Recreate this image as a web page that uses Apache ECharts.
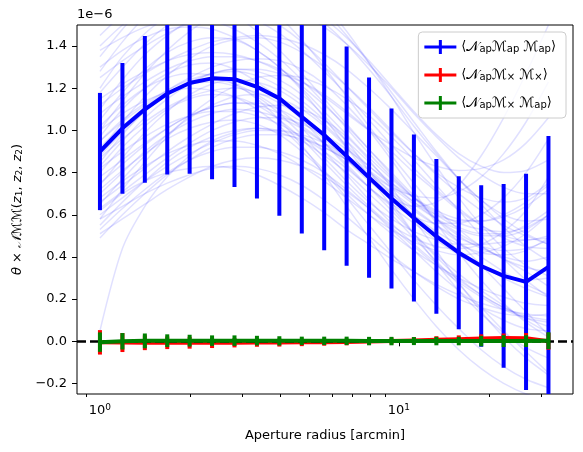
<!DOCTYPE html>
<html>
<head>
<meta charset="utf-8">
<script src="https://cdn.jsdelivr.net/npm/echarts@6/dist/echarts.min.js"></script>
<style>
  html, body { margin: 0; padding: 0; background: #fff; }
  #chart { width: 583px; height: 452px; }
</style>
</head>
<body>
<div id="chart"></div>
<script>
// aperture radii [arcmin]
const radius = [1.000, 1.189, 1.413, 1.679, 1.995, 2.371, 2.818, 3.350, 3.981, 4.732, 5.623,
  6.683, 7.943, 9.441, 11.22, 13.34, 15.85, 18.84, 22.39, 26.61, 31.62];

// values in units of 1e-6
const apMean = [0.90, 1.01, 1.10, 1.175, 1.225, 1.247, 1.243, 1.207, 1.152, 1.065, 0.978,
  0.878, 0.776, 0.677, 0.585, 0.497, 0.42, 0.357, 0.31, 0.282, 0.353];
const apErr = [0.278, 0.31, 0.348, 0.384, 0.43, 0.478, 0.511, 0.53, 0.557, 0.554, 0.546,
  0.52, 0.475, 0.427, 0.396, 0.367, 0.363, 0.383, 0.436, 0.513, 0.62];

const xxMean = [-0.005, -0.006, -0.007, -0.007, -0.007, -0.007, -0.007, -0.006, -0.006, -0.005, -0.004,
  -0.003, -0.001, 0.001, 0.004, 0.007, 0.010, 0.013, 0.015, 0.014, 0.000];
const xxErr = [0.058, 0.045, 0.035, 0.03, 0.028, 0.025, 0.022, 0.02, 0.019, 0.018, 0.017,
  0.016, 0.016, 0.016, 0.016, 0.017, 0.018, 0.02, 0.022, 0.025, 0.04];

const xapMean = [-0.004, 0.0, 0.002, 0.003, 0.003, 0.003, 0.003, 0.003, 0.002, 0.002, 0.002,
  0.002, 0.001, 0.001, 0.001, 0.001, 0.001, 0.001, 0.001, 0.001, 0.003];
const xapErr = [0.046, 0.039, 0.035, 0.03, 0.028, 0.025, 0.025, 0.023, 0.022, 0.02, 0.02,
  0.02, 0.02, 0.02, 0.019, 0.02, 0.02, 0.025, 0.028, 0.028, 0.04];

// individual realisations (faint lines)
const realizations = [
  [0.62,0.70,0.76,0.80,0.82,0.83,0.82,0.79,0.74,0.68,0.61,0.53,0.46,0.39,0.33,0.27,0.22,0.18,0.15,0.13,0.12],
  [1.10,1.24,1.36,1.45,1.52,1.55,1.55,1.52,1.46,1.38,1.28,1.17,1.05,0.93,0.82,0.72,0.63,0.55,0.49,0.45,0.44],
  [0.85,0.98,1.09,1.17,1.22,1.24,1.22,1.17,1.10,1.01,0.90,0.79,0.67,0.56,0.46,0.37,0.29,0.22,0.16,0.11,0.07],
  [0.05,0.44,0.64,0.78,0.88,0.95,0.99,1.01,1.00,0.97,0.92,0.86,0.79,0.71,0.63,0.55,0.47,0.40,0.33,0.27,0.22],
  [1.40,1.50,1.58,1.62,1.63,1.60,1.55,1.47,1.38,1.27,1.15,1.03,0.91,0.79,0.68,0.58,0.50,0.44,0.40,0.38,0.40],
  [0.70,0.80,0.90,0.98,1.04,1.08,1.10,1.09,1.06,1.01,0.94,0.86,0.77,0.68,0.59,0.51,0.43,0.36,0.30,0.25,0.21],
  [0.95,1.05,1.13,1.19,1.24,1.27,1.29,1.29,1.27,1.23,1.17,1.09,1.00,0.90,0.80,0.71,0.62,0.55,0.50,0.48,0.50],
  [0.55,0.66,0.76,0.85,0.92,0.97,1.00,1.01,0.99,0.95,0.88,0.80,0.70,0.60,0.49,0.38,0.27,0.16,0.05,-0.05,-0.15],
  [1.20,1.35,1.46,1.54,1.59,1.61,1.60,1.56,1.50,1.42,1.32,1.21,1.10,0.99,0.89,0.80,0.73,0.68,0.66,0.68,0.75],
  [0.80,0.92,1.02,1.10,1.15,1.17,1.16,1.12,1.05,0.96,0.85,0.74,0.64,0.55,0.49,0.45,0.44,0.46,0.52,0.62,0.78],
  [1.00,1.08,1.14,1.18,1.20,1.19,1.16,1.10,1.02,0.92,0.81,0.70,0.60,0.51,0.43,0.36,0.30,0.25,0.21,0.18,0.17],
  [0.58,0.72,0.85,0.97,1.07,1.15,1.21,1.25,1.26,1.25,1.21,1.15,1.07,0.97,0.86,0.74,0.62,0.50,0.39,0.29,0.21],
  [1.30,1.38,1.44,1.48,1.49,1.48,1.44,1.38,1.30,1.20,1.09,0.98,0.87,0.77,0.68,0.61,0.56,0.53,0.52,0.54,0.60],
  [0.75,0.84,0.93,1.01,1.07,1.11,1.13,1.12,1.08,1.02,0.94,0.84,0.73,0.62,0.51,0.41,0.32,0.24,0.17,0.10,0.04],
  [0.90,1.04,1.16,1.26,1.34,1.40,1.43,1.44,1.42,1.37,1.30,1.21,1.11,1.00,0.89,0.79,0.70,0.62,0.55,0.50,0.46],
  [0.68,0.76,0.83,0.89,0.93,0.95,0.95,0.93,0.89,0.83,0.76,0.68,0.60,0.53,0.47,0.43,0.41,0.42,0.45,0.51,0.60],
  [1.05,1.18,1.29,1.37,1.42,1.44,1.43,1.38,1.30,1.19,1.06,0.92,0.78,0.64,0.51,0.40,0.30,0.22,0.16,0.12,0.10],
  [0.49,0.60,0.70,0.79,0.86,0.92,0.96,0.98,0.98,0.96,0.92,0.86,0.78,0.70,0.62,0.55,0.49,0.45,0.43,0.44,0.48],
  [1.15,1.22,1.28,1.33,1.36,1.37,1.36,1.33,1.28,1.21,1.12,1.02,0.91,0.80,0.69,0.58,0.47,0.36,0.25,0.14,0.03],
  [0.88,0.99,1.09,1.17,1.23,1.27,1.28,1.26,1.21,1.14,1.05,0.95,0.85,0.75,0.66,0.58,0.51,0.45,0.39,0.33,0.26],
  [0.60,0.68,0.76,0.83,0.89,0.94,0.98,1.00,1.00,0.98,0.94,0.88,0.81,0.73,0.65,0.58,0.53,0.50,0.50,0.53,0.60],
  [1.45,1.55,1.63,1.69,1.72,1.72,1.69,1.63,1.54,1.43,1.30,1.16,1.02,0.88,0.75,0.63,0.53,0.45,0.39,0.35,0.33],
  [0.97,1.10,1.20,1.27,1.31,1.32,1.29,1.23,1.15,1.05,0.94,0.83,0.73,0.65,0.59,0.56,0.56,0.60,0.68,0.80,0.96],
  [0.72,0.81,0.89,0.96,1.01,1.04,1.05,1.03,0.98,0.90,0.80,0.68,0.55,0.42,0.29,0.17,0.06,-0.04,-0.12,-0.18,-0.22],
  [1.25,1.33,1.40,1.46,1.51,1.55,1.58,1.59,1.58,1.55,1.49,1.41,1.31,1.20,1.08,0.97,0.87,0.79,0.73,0.70,0.70],
  [0.82,0.90,0.97,1.03,1.07,1.09,1.09,1.07,1.03,0.97,0.90,0.82,0.73,0.64,0.56,0.48,0.41,0.35,0.31,0.29,0.30],
  [0.53,0.63,0.72,0.80,0.86,0.90,0.92,0.92,0.90,0.86,0.80,0.72,0.63,0.53,0.43,0.33,0.24,0.16,0.10,0.06,0.05],
  [1.08,1.16,1.23,1.29,1.33,1.35,1.35,1.33,1.29,1.23,1.16,1.08,1.00,0.93,0.87,0.83,0.81,0.82,0.86,0.94,1.06],
  [0.92,1.02,1.11,1.18,1.22,1.23,1.21,1.16,1.08,0.98,0.87,0.76,0.66,0.58,0.52,0.48,0.46,0.46,0.47,0.48,0.49],
  [0.65,0.77,0.88,0.98,1.06,1.12,1.16,1.17,1.15,1.10,1.02,0.92,0.81,0.70,0.60,0.52,0.46,0.42,0.41,0.43,0.49],
  [0.78,0.86,0.94,1.01,1.07,1.11,1.13,1.13,1.10,1.04,0.96,0.86,0.76,0.68,0.64,0.66,0.74,0.88,1.06,1.27,1.50],
  [1.02,1.12,1.20,1.25,1.27,1.26,1.22,1.15,1.05,0.93,0.79,0.64,0.49,0.34,0.20,0.07,-0.04,-0.13,-0.20,-0.25,-0.28],
  [1.35,1.48,1.60,1.70,1.77,1.81,1.82,1.80,1.75,1.67,1.57,1.45,1.32,1.18,1.04,0.90,0.77,0.65,0.54,0.45,0.38],
  [0.66,0.74,0.82,0.90,0.97,1.03,1.08,1.11,1.12,1.10,1.05,0.97,0.86,0.73,0.58,0.43,0.28,0.14,0.02,-0.08,-0.16],
  [1.18,1.30,1.41,1.50,1.57,1.62,1.65,1.66,1.64,1.59,1.51,1.41,1.29,1.16,1.02,0.89,0.77,0.67,0.60,0.57,0.58],
  [0.87,0.96,1.04,1.11,1.16,1.19,1.20,1.18,1.13,1.06,0.97,0.88,0.80,0.73,0.69,0.68,0.71,0.78,0.89,1.04,1.23],
  [0.58,0.64,0.70,0.75,0.79,0.82,0.83,0.82,0.79,0.74,0.67,0.59,0.50,0.41,0.33,0.26,0.20,0.16,0.13,0.12,0.13],
  [1.28,1.42,1.54,1.64,1.72,1.78,1.81,1.81,1.77,1.70,1.60,1.47,1.32,1.16,0.99,0.83,0.68,0.55,0.44,0.36,0.31],
  [0.95,1.04,1.12,1.19,1.25,1.30,1.33,1.34,1.33,1.29,1.22,1.12,1.00,0.86,0.71,0.56,0.42,0.29,0.18,0.09,0.02],
  [0.74,0.87,0.99,1.09,1.17,1.22,1.24,1.23,1.19,1.12,1.03,0.93,0.83,0.74,0.66,0.60,0.57,0.57,0.60,0.66,0.74],
  [1.12,1.20,1.27,1.33,1.38,1.42,1.44,1.45,1.44,1.41,1.36,1.29,1.20,1.10,0.99,0.88,0.77,0.67,0.58,0.51,0.46],
  [0.51,0.58,0.65,0.72,0.78,0.83,0.86,0.87,0.86,0.83,0.78,0.71,0.63,0.54,0.45,0.36,0.28,0.21,0.15,0.11,0.09],
  [1.38,1.44,1.49,1.52,1.53,1.52,1.48,1.42,1.34,1.24,1.13,1.01,0.89,0.78,0.68,0.60,0.54,0.51,0.51,0.55,0.62],
  [0.83,0.95,1.06,1.15,1.22,1.27,1.29,1.28,1.24,1.17,1.07,0.95,0.81,0.66,0.51,0.37,0.24,0.13,0.04,-0.03,-0.08],
  [1.00,1.14,1.27,1.38,1.47,1.54,1.59,1.62,1.62,1.59,1.53,1.44,1.33,1.21,1.09,0.98,0.89,0.83,0.80,0.81,0.86],
  [0.63,0.71,0.79,0.87,0.94,1.00,1.04,1.06,1.06,1.03,0.98,0.91,0.83,0.75,0.68,0.62,0.58,0.57,0.59,0.64,0.72]
];

const yTicks = [-0.2, 0.0, 0.2, 0.4, 0.6, 0.8, 1.0, 1.2, 1.4];
const xMajorTicks = [1, 10];
const xMinorTicks = [0.9, 2, 3, 4, 5, 6, 7, 8, 9, 20, 30];

const FONT = 'DejaVu Sans';
const crossIcon = 'path://M0,5.5h32v3h-32zM14.5,0h3v14h-3z';

const legendNames = ['ap', 'xx', 'xap'];
const legendText = {
  ap: '⟨{cal|𝒩}{sub|ap}{cal|ℳ}{sub|ap} {cal|ℳ}{sub|ap}⟩',
  xx: '⟨{cal|𝒩}{sub|ap}{cal|ℳ}{sub|×} {cal|ℳ}{sub|×}⟩',
  xap: '⟨{cal|𝒩}{sub|ap}{cal|ℳ}{sub|×} {cal|ℳ}{sub|ap}⟩'
};

function meanSeries(name, color, mean, z) {
  return {
    name: name, type: 'line', z: z,
    data: radius.map((r, i) => [r, mean[i]]),
    showSymbol: false, symbol: 'none',
    color: color,
    itemStyle: { color: color },
    lineStyle: { color: color, width: 4 },
    silent: true
  };
}

function errorSeries(name, color, mean, err, z) {
  return {
    name: name, type: 'custom', z: z, clip: true,
    data: radius.map((r, i) => [r, mean[i] - err[i], mean[i] + err[i]]),
    encode: { x: 0, y: [1, 2] },
    renderItem: function (params, api) {
      const lo = api.coord([api.value(0), api.value(1)]);
      const hi = api.coord([api.value(0), api.value(2)]);
      return {
        type: 'line',
        shape: { x1: lo[0], y1: lo[1], x2: hi[0], y2: hi[1] },
        style: { stroke: color, lineWidth: 4 }
      };
    },
    silent: true
  };
}

const series = [];
realizations.forEach((vals, k) => {
  series.push({
    name: 'real' + k, type: 'line', z: 1,
    data: radius.map((r, i) => [r, vals[i]]),
    showSymbol: false, symbol: 'none', smooth: 0.3,
    lineStyle: { color: 'rgba(0,0,255,0.12)', width: 1.5 },
    silent: true
  });
});
series.push(meanSeries('ap', '#0000ff', apMean, 2));
series.push(errorSeries('ap', '#0000ff', apMean, apErr, 2));
series.push({
  name: 'zero', type: 'line', z: 3, data: [],
  markLine: {
    silent: true, symbol: ['none', 'none'], label: { show: false },
    lineStyle: { color: '#000', width: 2.5, type: [9, 4] },
    data: [{ yAxis: 0 }]
  }
});
series.push(meanSeries('xx', '#ff0000', xxMean, 4));
series.push(errorSeries('xx', '#ff0000', xxMean, xxErr, 4));
series.push(meanSeries('xap', '#008000', xapMean, 5));
series.push(errorSeries('xap', '#008000', xapMean, xapErr, 5));

const chart = echarts.init(document.getElementById('chart'));
chart.setOption({
  animation: false,
  textStyle: { fontFamily: FONT },
  grid: { left: 77, top: 25, right: 10, bottom: 58, show: true, borderColor: '#000', borderWidth: 1, backgroundColor: 'transparent' },
  xAxis: [
    {
      type: 'log', logBase: 10, min: 0.838, max: 38.2, position: 'bottom',
      name: 'Aperture radius [arcmin]', nameLocation: 'middle', nameGap: 35,
      nameTextStyle: { fontSize: 13, color: '#000', fontFamily: FONT },
      axisLine: { show: false },
      splitLine: { show: false },
      axisTick: { show: true, inside: false, length: 5, lineStyle: { color: '#000' }, customValues: xMajorTicks },
      axisLabel: {
        show: true, margin: 9, color: '#000', fontSize: 13, fontFamily: FONT,
        customValues: xMajorTicks,
        formatter: v => '10{sup|' + Math.round(Math.log10(v)) + '}',
        rich: { sup: { fontSize: 9, verticalAlign: 'top', padding: [0, 0, 6, 0], color: '#000', fontFamily: FONT } }
      }
    },
    {
      type: 'log', logBase: 10, min: 0.838, max: 38.2, position: 'bottom',
      axisLine: { show: false },
      splitLine: { show: false },
      axisTick: { show: true, inside: false, length: 3, lineStyle: { color: '#000' }, customValues: xMinorTicks },
      axisLabel: { show: false }
    }
  ],
  yAxis: {
    type: 'value', min: -0.25, max: 1.5,
    name: '{it|θ} × {cal|𝒩ℳℳ}({it|z}{sub|1}, {it|z}{sub|2}, {it|z}{sub|2})',
    nameLocation: 'middle', nameGap: 52, nameRotate: 90,
    nameTextStyle: {
      fontSize: 13, color: '#000', fontFamily: FONT,
      rich: {
        it: { fontStyle: 'italic', fontSize: 13, fontFamily: FONT },
        cal: { fontStyle: 'italic', fontSize: 13, fontFamily: FONT },
        sub: { fontSize: 9, verticalAlign: 'bottom', fontFamily: FONT }
      }
    },
    axisLine: { show: false },
    splitLine: { show: false },
    axisTick: { show: true, inside: false, length: 5, lineStyle: { color: '#000' }, customValues: yTicks },
    axisLabel: {
      margin: 10, color: '#000', fontSize: 13, fontFamily: FONT,
      customValues: yTicks,
      formatter: v => (v < -1e-9 ? '−' : '') + Math.abs(v).toFixed(1)
    }
  },
  legend: {
    orient: 'vertical', right: 17, top: 32, z: 10,
    data: legendNames.map(n => ({ name: n, icon: crossIcon })),
    itemWidth: 32, itemHeight: 14, itemGap: 14,
    padding: [8, 10, 8, 6],
    backgroundColor: 'rgba(255,255,255,0.8)',
    borderColor: '#cccccc', borderWidth: 1, borderRadius: 4,
    selectedMode: false,
    formatter: n => legendText[n],
    textStyle: {
      fontSize: 13, color: '#000', fontFamily: FONT,
      rich: {
        cal: { fontSize: 14, fontFamily: FONT, color: '#000' },
        sub: { fontSize: 10, verticalAlign: 'bottom', fontFamily: FONT, color: '#000' }
      }
    }
  },
  graphic: [{
    type: 'text', left: 77, top: 8,
    style: { text: '1e−6', fontSize: 13, fill: '#000', fontFamily: FONT }
  }],
  series: series
});
</script>
</body>
</html>
